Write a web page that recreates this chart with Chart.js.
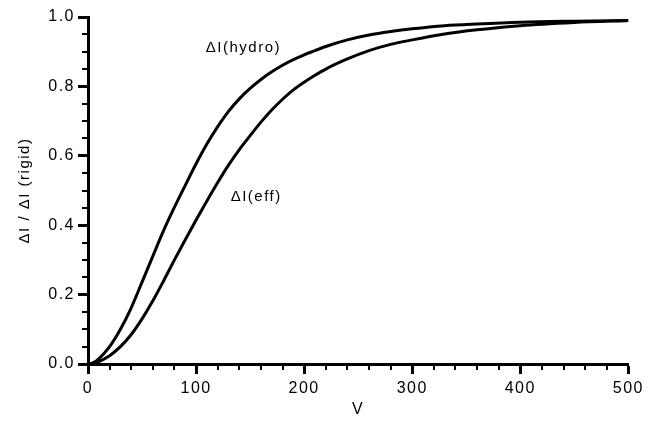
<!DOCTYPE html>
<html><head><meta charset="utf-8">
<script src="https://cdn.jsdelivr.net/npm/chart.js@4"></script>
<style>html,body{margin:0;padding:0;background:#fff}</style>
</head><body>
<canvas id="c" width="649" height="422"></canvas>
<script>
const voltage = [0,5,10,20,30,40,50,60,70,80,90,100,110,120,130,140,150,160,170,180,190,200,210,220,240,260,280,300,330,360,400,450,500];
const hydro   = [0,0.004,0.015,0.05,0.1,0.162,0.236,0.311,0.385,0.452,0.515,0.577,0.634,0.684,0.728,0.764,0.794,0.82,0.842,0.861,0.877,0.891,0.903,0.915,0.934,0.948,0.958,0.966,0.975,0.98,0.985,0.988,0.99];
const eff     = [0,0.002,0.007,0.024,0.05,0.085,0.13,0.182,0.24,0.3,0.358,0.415,0.47,0.523,0.573,0.618,0.658,0.697,0.732,0.763,0.79,0.812,0.832,0.85,0.879,0.903,0.921,0.934,0.951,0.963,0.975,0.984,0.99];
const curveLabels = ['\u0394I(hydro)', '\u0394I(eff)'];
const curveLabelX = [109, 132];
const curveLabelY = [0.911, 0.481];
const xTitle = 'V';
const yTitle = '\u0394I / \u0394I (rigid)';
const xMinorStep = 20, yMinorStep = 0.05;

const FONT = "'Liberation Sans', Arial, Helvetica, sans-serif";

function spacing(chart){ try { chart.ctx.letterSpacing = '1.5px'; } catch(e){} }

const helperPlugin = {
  id: 'helper',
  beforeUpdate: spacing, beforeLayout: spacing, beforeDraw: spacing,
  afterDraw(chart) {
    const ctx = chart.ctx, xs = chart.scales.x, ys = chart.scales.y;
    const area = chart.chartArea;
    ctx.save();
    ctx.strokeStyle = '#000';
    ctx.lineWidth = 2;
    ctx.beginPath();
    for (let v = xs.min; v <= xs.max + 1e-9; v += xMinorStep) {
      if (Math.abs(v % 100) < 1e-9) continue;
      const px = Math.round(xs.getPixelForValue(v));
      ctx.moveTo(px, area.bottom); ctx.lineTo(px, area.bottom + 6);
    }
    for (let k = 0; k <= 20; k++) {
      const v = k * yMinorStep;
      if (k % 4 === 0) continue;
      const py = Math.round(ys.getPixelForValue(v));
      ctx.moveTo(area.left, py); ctx.lineTo(area.left - 6, py);
    }
    ctx.stroke();
    ctx.fillStyle = '#000';
    ctx.font = '15px ' + FONT;
    try { ctx.letterSpacing = '1.5px'; } catch(e){}
    ctx.textAlign = 'left';
    ctx.textBaseline = 'middle';
    curveLabels.forEach((t, i) => {
      ctx.fillText(t, xs.getPixelForValue(curveLabelX[i]), ys.getPixelForValue(curveLabelY[i]));
    });
    ctx.restore();
  }
};

new Chart(document.getElementById('c'), {
  type: 'line',
  data: {
    datasets: [
      { label: 'hydro', data: voltage.map((v, i) => ({x: v, y: hydro[i]})), borderColor: '#000', borderWidth: 3, pointRadius: 0, cubicInterpolationMode: 'monotone', fill: false },
      { label: 'eff', data: voltage.map((v, i) => ({x: v, y: eff[i]})), borderColor: '#000', borderWidth: 3, pointRadius: 0, cubicInterpolationMode: 'monotone', fill: false }
    ]
  },
  options: {
    responsive: false,
    devicePixelRatio: 1,
    animation: false,
    layout: { padding: { top: 17, right: 17, left: 0, bottom: 0 } },
    plugins: { legend: { display: false }, tooltip: { enabled: false } },
    scales: {
      x: {
        type: 'linear', min: 0, max: 500,
        afterFit(s) { s.height = 58; },
        ticks: { stepSize: 100, color: '#000', padding: 5, font: { family: FONT, size: 16 } },
        grid: { drawOnChartArea: false, tickLength: 10, tickWidth: 3, tickColor: '#000' },
        border: { color: '#000', width: 3 },
        title: { display: true, text: xTitle, color: '#000', font: { family: FONT, size: 16 }, padding: { top: 0, bottom: 3 } }
      },
      y: {
        type: 'linear', min: 0, max: 1,
        afterFit(s) { s.width = 88; },
        ticks: { stepSize: 0.2, color: '#000', padding: 3, font: { family: FONT, size: 16 }, callback: v => Number(v).toFixed(1) },
        grid: { drawOnChartArea: false, tickLength: 10, tickWidth: 3, tickColor: '#000' },
        border: { color: '#000', width: 3 },
        title: { display: true, text: yTitle, color: '#000', font: { family: FONT, size: 15 }, padding: { top: 16, bottom: 0 } }
      }
    }
  },
  plugins: [helperPlugin]
});
</script>
</body></html>
